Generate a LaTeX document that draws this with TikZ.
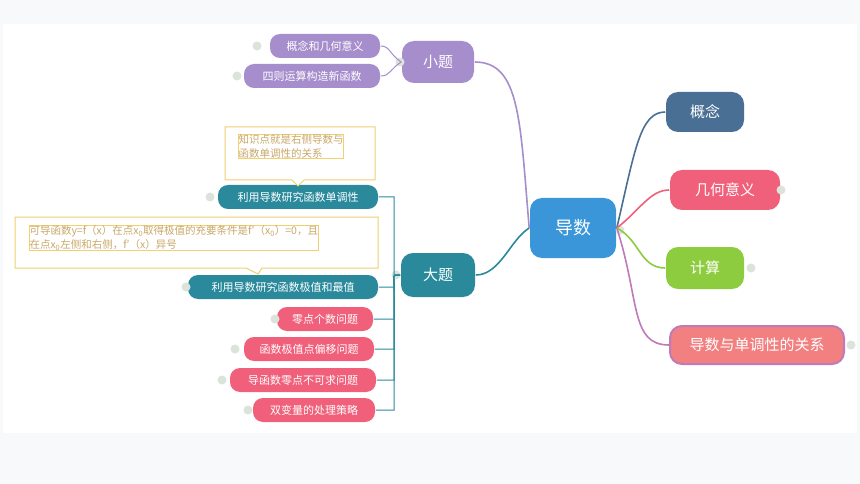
\documentclass[tikz,border=0pt]{standalone}
\usepackage{fontspec}
\setmainfont{Noto Sans CJK SC}
\definecolor{cblue}{HTML}{3A96D8}
\definecolor{cslate}{HTML}{4A6F94}
\definecolor{cpink}{HTML}{F0607A}
\definecolor{cgreen}{HTML}{8CCC3E}
\definecolor{csalmon}{HTML}{F28080}
\definecolor{cviolet}{HTML}{C07AB8}
\definecolor{cpurple}{HTML}{A68DCC}
\definecolor{cteal}{HTML}{2A8A9C}
\definecolor{cnote}{HTML}{F0D070}
\definecolor{cnotetext}{HTML}{C8A868}
\definecolor{cback}{HTML}{F8F9FB}
\begin{document}
\begin{tikzpicture}[x = 1pt, y = -1pt, line width = 1.6pt,
                    topic/.style = {rounded corners = 12pt, text = white, font = \fontsize{15}{15}\selectfont, inner sep = 0pt},
                    sub/.style = {rounded corners = 10pt, text = white, font = \fontsize{11}{11}\selectfont, minimum height = 24pt, inner sep = 0pt},
                    note/.style = {draw = cnote, line width = 1pt, fill = white, text = cnotetext, align = left, font = \fontsize{10.5}{14}\selectfont, inner sep = 0pt},
                    knob/.style = {circle, fill = green!12!gray!25, minimum size = 9pt, inner sep = 0pt}]
      \fill [cback] (0, 0) rectangle (860, 484);
      \fill [white] (3, 24) rectangle (857, 433);

      % centre and main topics
      \node [topic, fill = cblue, minimum width = 86pt, minimum height = 60pt, font = \fontsize{18}{18}\selectfont] (root) at (573, 228){导数};
      \node [topic, fill = cslate, minimum width = 78pt, minimum height = 40pt] (gn) at (705, 112){概念};
      \node [topic, fill = cpink, minimum width = 110pt, minimum height = 40pt] (jh) at (725, 190){几何意义};
      \node [topic, fill = cgreen, minimum width = 78pt, minimum height = 42pt] (js) at (705, 268){计算};
      \node [topic, fill = csalmon, draw = cviolet, line width = 2pt, minimum width = 174pt, minimum height = 38pt] (dy) at (757, 345){导数与单调性的关系};
      \node [topic, fill = cpurple, minimum width = 72pt, minimum height = 42pt] (xt) at (438, 62){小题};
      \node [topic, fill = cteal, minimum width = 74pt, minimum height = 44pt] (dt) at (438, 275){大题};

      % sub topics
      \node [sub, fill = cpurple, minimum width = 110pt] (x1) at (325, 46){概念和几何意义};
      \node [sub, fill = cpurple, minimum width = 136pt] (x2) at (312, 76){四则运算构造新函数};
      \node [sub, fill = cteal, minimum width = 160pt] (d1) at (298, 197){利用导数研究函数单调性};
      \node [sub, fill = cteal, minimum width = 190pt] (d2) at (283, 287){利用导数研究函数极值和最值};
      \node [sub, fill = cpink, minimum width = 96pt] (d3) at (325, 319){零点个数问题};
      \node [sub, fill = cpink, minimum width = 130pt] (d4) at (309, 349){函数极值点偏移问题};
      \node [sub, fill = cpink, minimum width = 146pt] (d5) at (303, 380){导函数零点不可求问题};
      \node [sub, fill = cpink, minimum width = 122pt] (d6) at (314, 410){双变量的处理策略};

      % notes
      \draw [draw = cnote, line width = 1pt, fill = white] (225, 127) -- (375, 127) -- (375, 180) -- (304, 180) -- (298, 186) -- (292, 180) -- (225, 180) -- cycle;
      \node [note, anchor = north west] (n1) at (238, 134){知识点就是右侧导数与\\函数单调性的关系};
      \draw [draw = cnote, line width = 1pt, fill = white] (15, 217) -- (378, 217) -- (378, 268) -- (262, 268) -- (258, 274) -- (246, 268) -- (15, 268) -- cycle;
      \node [note, anchor = north west] (n2) at (29, 225){可导函数y=f（x）在点x\textsubscript{0}取得极值的充要条件是f′（x\textsubscript{0}）=0，且\\在点x\textsubscript{0}左侧和右侧，f′（x）异号};

      % knobs
      \foreach \p in {(257, 46), (237, 76), (400, 62), (396, 275), (620, 230), (781, 190), (751, 268), (851, 345), (210, 197), (186, 287), (275, 319), (235, 349), (222, 380), (248, 410)}
        \node [knob] at \p {};

      % branches
      \draw [cpurple] (root.west) .. controls (520, 120) and (520, 62) .. (xt.east);
      \draw [cteal] (root.west) .. controls (510, 240) and (500, 275) .. (dt.east);
      \draw [cslate] (root.east) .. controls (635, 150) and (640, 112) .. (gn.west);
      \draw [cpink] (root.east) .. controls (640, 210) and (650, 190) .. (jh.west);
      \draw [cgreen] (root.east) .. controls (640, 240) and (640, 268) .. (js.west);
      \draw [cviolet] (root.east) .. controls (640, 300) and (630, 345) .. (dy.west);
      \draw [cpurple, line width = 1pt] (xt.west) .. controls (390, 55) and (390, 46) .. (x1.east);
      \draw [cpurple, line width = 1pt] (xt.west) .. controls (390, 69) and (390, 76) .. (x2.east);
      \foreach \n in {d1, d2, d3, d4, d5, d6}
        \draw [cteal, line width = 1pt] (dt.west) .. controls (390, 275) and (395, 275) .. (394, 290) |- (\n.east);
\end{tikzpicture}
\end{document}
